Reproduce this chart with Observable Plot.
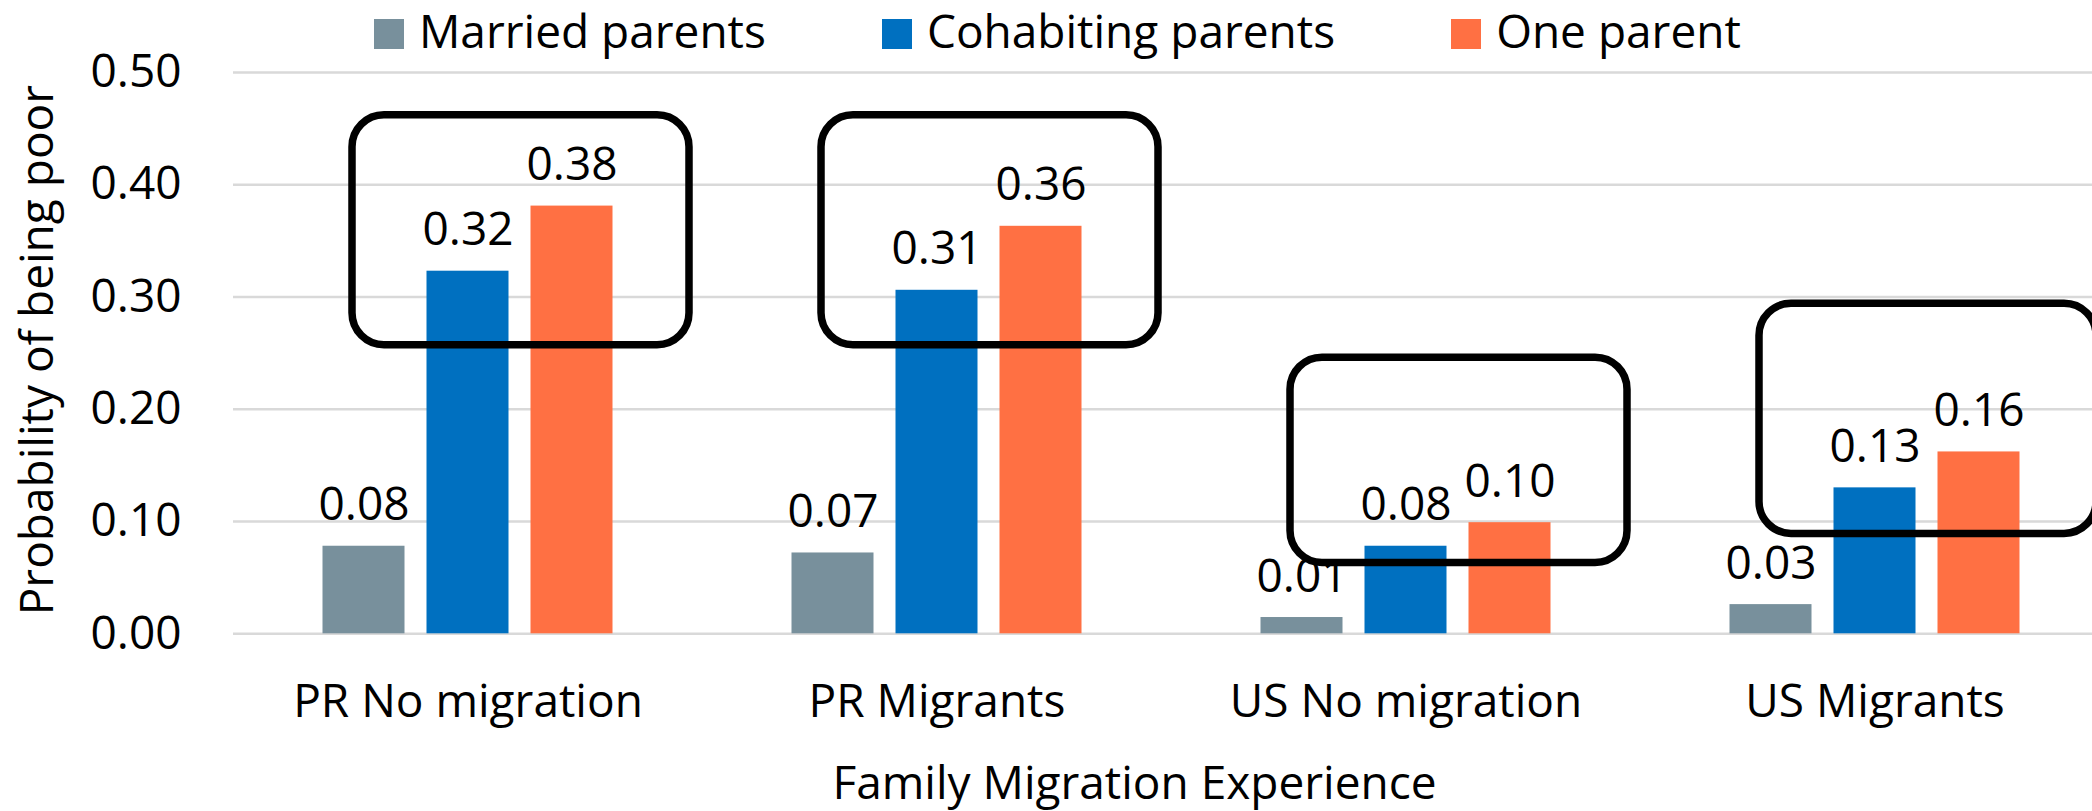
<!DOCTYPE html>
<html><head><meta charset="utf-8">
<script src="https://cdn.jsdelivr.net/npm/d3@7"></script>
<script src="https://cdn.jsdelivr.net/npm/@observablehq/plot@0.6"></script>
<style>
html,body{margin:0;padding:0;background:#fff;overflow:hidden;}
#wrap{position:relative;width:2092px;height:811px;font-family:"Open Sans",sans-serif;}
#legend{position:absolute;top:-1px;left:374px;display:flex;gap:116px;font-size:46px;color:#000;white-space:nowrap;}
.item{display:flex;align-items:flex-start;}
.sw{width:30px;height:30px;margin-top:20px;margin-right:15px;flex:none;}
</style></head><body>
<div id="wrap"><div id="chart"></div><div id="legend"></div></div>
<script>
const groups = ["PR No migration", "PR Migrants", "US No migration", "US Migrants"];
const series = ["Married parents", "Cohabiting parents", "One parent"];
const colors = ["#78909C", "#0070C0", "#FF7043"];
const married = [0.078, 0.072, 0.0145, 0.026];
const cohabiting = [0.323, 0.306, 0.078, 0.130];
const oneParent = [0.381, 0.363, 0.099, 0.162];
const boxTop = [0.462, 0.462, 0.246, 0.294];
const boxBottom = [0.257, 0.257, 0.063, 0.089];
const yTicks = [0, 0.1, 0.2, 0.3, 0.4, 0.5];
const yTitle = "Probability of being poor";
const xTitle = "Family Migration Experience";

const values = [married, cohabiting, oneParent];
const data = series.map((s, i) => groups.map((g, j) => ({group: g, series: s, value: values[i][j]})));
const boxes = groups.map((g, j) => ({group: g, top: boxTop[j], bottom: boxBottom[j]}));
const fmt = d3.format(".2f");
const step = 104;

const chart = Plot.plot({
  width: 2092,
  height: 811,
  marginLeft: 233,
  marginRight: 0,
  marginTop: 72,
  marginBottom: 177.7,
  style: {fontFamily: "'Open Sans', sans-serif", fontSize: "46px", color: "#000", background: "#fff", overflow: "visible"},
  x: {domain: groups, range: [233, 2109], padding: 0},
  y: {domain: [0, 0.5]},
  marks: [
    Plot.ruleY(yTicks, {stroke: "#d9d9d9", strokeWidth: 2.5}),
    ...data.flatMap((rows, i) => [
      Plot.barY(rows, {x: "group", y: "value", fill: colors[i], insetLeft: 193.5, insetRight: 193.5, dx: (i - 1) * step}),
      Plot.text(rows, {x: "group", y: "value", text: d => fmt(d.value), dx: (i - 1) * step, dy: -26, lineAnchor: "bottom", fill: "#000"})
    ]),
    Plot.barY(boxes, {x: "group", y1: "bottom", y2: "top", fill: "none", stroke: "#000", strokeWidth: 7.5, rx: 32, insetLeft: 119, insetRight: 13}),
    Plot.axisY({ticks: yTicks, tickFormat: fmt, tickSize: 0, tickPadding: 52, label: null}),
    Plot.axisX({tickSize: 0, tickPadding: 51, label: null}),
    Plot.text([yTitle], {text: d => d, frameAnchor: "left", textAnchor: "middle", rotate: -90, lineAnchor: "bottom", dx: -181, dy: -3, fill: "#000"}),
    Plot.text([xTitle], {text: d => d, frameAnchor: "bottom", textAnchor: "middle", lineAnchor: "bottom", dx: -28.5, dy: 165, fill: "#000"})
  ]
});
document.getElementById("chart").appendChild(chart);

const legend = document.getElementById("legend");
series.forEach((s, i) => {
  const item = document.createElement("div");
  item.className = "item";
  const sw = document.createElement("div");
  sw.className = "sw";
  sw.style.background = colors[i];
  const label = document.createElement("span");
  label.textContent = s;
  item.appendChild(sw);
  item.appendChild(label);
  legend.appendChild(item);
});
</script>
</body></html>
